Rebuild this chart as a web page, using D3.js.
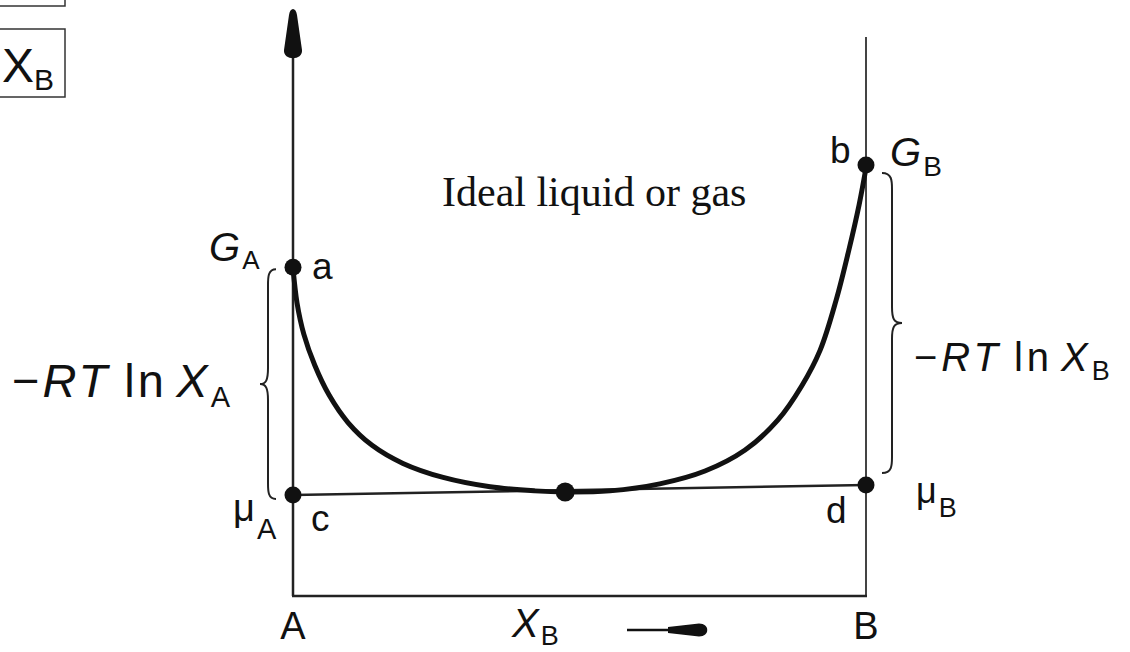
<!DOCTYPE html>
<html><head><meta charset="utf-8">
<script src="https://cdn.jsdelivr.net/npm/d3@7"></script>
<style>
html,body{margin:0;padding:0;background:#fff;}
svg{display:block;}
text{font-family:"Liberation Sans",Arial,sans-serif;fill:#111;}
</style></head><body>
<svg id="chart" width="1130" height="652"></svg>
<script>
// Molar Gibbs energy of the ideal solution vs. mole fraction of B (arbitrary units)
const curveX = [0, 0.007, 0.019, 0.038, 0.063, 0.096, 0.138, 0.192, 0.262, 0.344, 0.422, 0.475, 0.553, 0.640, 0.719, 0.789, 0.846, 0.888, 0.920, 0.948, 0.970, 0.988, 1.0];
const curveG = [5.62, 5.02, 4.48, 3.95, 3.44, 2.97, 2.58, 2.27, 2.03, 1.87, 1.80, 1.78, 1.80, 1.92, 2.14, 2.50, 3.01, 3.60, 4.21, 5.07, 5.92, 6.70, 7.33];

// Marked points: pure A (a), pure B (b), tangent intercepts (c, d) and tangent point
const pointNames = ["a", "b", "c", "d", ""];
const pointX = [0, 1, 0, 1, 0.475];
const pointG = [5.63, 7.38, 1.73, 1.90, 1.78];

const endLabels = ["A", "B"];
const endX = [0, 1];

const svg = d3.select("#chart");
const x = d3.scaleLinear().domain([0, 1]).range([293, 866]);
const y = d3.scaleLinear().domain([0, 10]).range([596, 12]);

const ink = "#111";

// Boxes in the corner
svg.append("rect").attr("x", -2).attr("y", -40).attr("width", 67).attr("height", 46)
  .attr("fill", "none").attr("stroke", "#333").attr("stroke-width", 1.5);
svg.append("rect").attr("x", -2).attr("y", 29).attr("width", 67).attr("height", 68)
  .attr("fill", "none").attr("stroke", "#333").attr("stroke-width", 1.5);
const bx = svg.append("text").attr("x", 2).attr("y", 82).style("font-size", "48px");
bx.append("tspan").text("X");
bx.append("tspan").attr("dy", 8).style("font-size", "30px").text("B");

// Frame: left axis with arrow, right axis, baseline
svg.append("line").attr("x1", x(0)).attr("x2", x(0)).attr("y1", y(0)).attr("y2", 55)
  .attr("stroke", "#222").attr("stroke-width", 2.5);
svg.append("path")
  .attr("d", `M${x(0)-4},15 C${x(0)-3},7 ${x(0)+3},7 ${x(0)+4},15 L${x(0)+9},50 C${x(0)+10},61 ${x(0)-10},61 ${x(0)-9},50 Z`)
  .attr("fill", ink);
svg.append("line").attr("x1", x(1)).attr("x2", x(1)).attr("y1", y(0)).attr("y2", 37)
  .attr("stroke", "#444").attr("stroke-width", 2);
svg.append("line").attr("x1", x(0) - 1).attr("x2", x(1) + 1).attr("y1", y(0)).attr("y2", y(0))
  .attr("stroke", "#222").attr("stroke-width", 2.5);

// Tangent line through c and d
svg.append("line")
  .attr("x1", x(pointX[2])).attr("y1", y(pointG[2]))
  .attr("x2", x(pointX[3])).attr("y2", y(pointG[3]))
  .attr("stroke", "#222").attr("stroke-width", 2.5);

// Gibbs energy curve
const curveData = curveX.map((v, i) => [v, curveG[i]]);
svg.append("path")
  .datum(curveData)
  .attr("d", d3.line().x(d => x(d[0])).y(d => y(d[1])).curve(d3.curveCatmullRom.alpha(0.5)))
  .attr("fill", "none").attr("stroke", ink).attr("stroke-width", 5).attr("stroke-linecap", "round");

// Points
svg.selectAll("circle.pt").data(pointX.map((v, i) => ({x: v, g: pointG[i], n: pointNames[i]})))
  .join("circle").attr("class", "pt")
  .attr("cx", d => x(d.x)).attr("cy", d => y(d.g))
  .attr("r", d => d.n === "" ? 9.5 : 8.5).attr("fill", ink);

// Point letters
const letterPos = {a: [19, 12], b: [-36, -2], c: [18, 36], d: [-40, 38]};
pointNames.forEach((n, i) => {
  if (!n) return;
  svg.append("text").attr("x", x(pointX[i]) + letterPos[n][0]).attr("y", y(pointG[i]) + letterPos[n][1])
    .style("font-size", "37px").text(n);
});

// Subscripted symbol helper
function symbol(px, py, main, sub, size, subSize, italic, dy) {
  const t = svg.append("text").attr("x", px).attr("y", py).style("font-size", size + "px");
  t.append("tspan").style("font-style", italic ? "italic" : "normal").text(main);
  t.append("tspan").attr("dx", 2).attr("dy", dy).style("font-size", subSize + "px").text(sub);
  return t;
}
symbol(x(0) - 84, y(pointG[0]) - 6, "G", "A", 40, 26, true, 8);
symbol(x(1) + 24, y(pointG[1]) + 1, "G", "B", 40, 28, true, 10);
symbol(x(0) - 60, y(pointG[2]) + 26, "μ", "A", 38, 29, false, 18);
symbol(x(1) + 50, y(pointG[3]) + 18, "μ", "B", 36, 27, false, 14);

// Curly braces spanning G - mu
function brace(xv, y1, y2, dir, depth) {
  const ym = (y1 + y2) / 2;
  const r = 8;
  const d = `M${xv - dir * depth},${y1} C${xv},${y1} ${xv},${y1 + r} ${xv},${y1 + 2 * r}
    L${xv},${ym - 2 * r} C${xv},${ym - 4} ${xv + dir * 2},${ym} ${xv + dir * depth},${ym}
    C${xv + dir * 2},${ym} ${xv},${ym + 4} ${xv},${ym + 2 * r}
    L${xv},${y2 - 2 * r} C${xv},${y2 - r} ${xv},${y2} ${xv - dir * depth},${y2}`;
  svg.append("path").attr("d", d).attr("fill", "none").attr("stroke", "#222").attr("stroke-width", 2);
}
brace(268, y(pointG[0]) + 2, y(pointG[2]) + 4, -1, 8);
brace(892, y(pointG[1]) + 8, y(pointG[3]) - 12, 1, 10);

// -RT ln X labels
function rtLabel(px, py, size, subSize, sub, spacing) {
  const t = svg.append("text").attr("x", px).attr("y", py).style("font-size", size + "px")
    .style("letter-spacing", spacing + "px");
  t.append("tspan").text("−");
  t.append("tspan").style("font-style", "italic").text("RT");
  t.append("tspan").attr("dx", size * 0.3).text("ln");
  t.append("tspan").attr("dx", size * 0.2).style("font-style", "italic").text("X");
  t.append("tspan").attr("dy", size * 0.22).style("font-size", subSize + "px").text(sub);
}
rtLabel(12, 397, 47, 29, "A", 3);
rtLabel(914, 371, 40, 27, "B", 4);

// Composition axis labels
endLabels.forEach((l, i) => {
  svg.append("text").attr("x", x(endX[i])).attr("y", 639).attr("text-anchor", "middle")
    .style("font-size", "38px").text(l);
});
const xl = svg.append("text").attr("x", 512).attr("y", 637).style("font-size", "40px");
xl.append("tspan").style("font-style", "italic").text("X");
xl.append("tspan").attr("dx", 2).attr("dy", 8).style("font-size", "27px").text("B");
svg.append("line").attr("x1", 627).attr("x2", 675).attr("y1", 630).attr("y2", 630)
  .attr("stroke", ink).attr("stroke-width", 2.5);
svg.append("path").attr("d", "M668,627 L699,623.5 C710,623.5 710,636.5 699,636.5 L668,633 Z").attr("fill", ink);

// Title
svg.append("text").attr("x", 442).attr("y", 206)
  .style("font-family", "'Liberation Serif','Times New Roman',serif")
  .style("font-size", "42px").text("Ideal liquid or gas");
</script>
</body></html>
